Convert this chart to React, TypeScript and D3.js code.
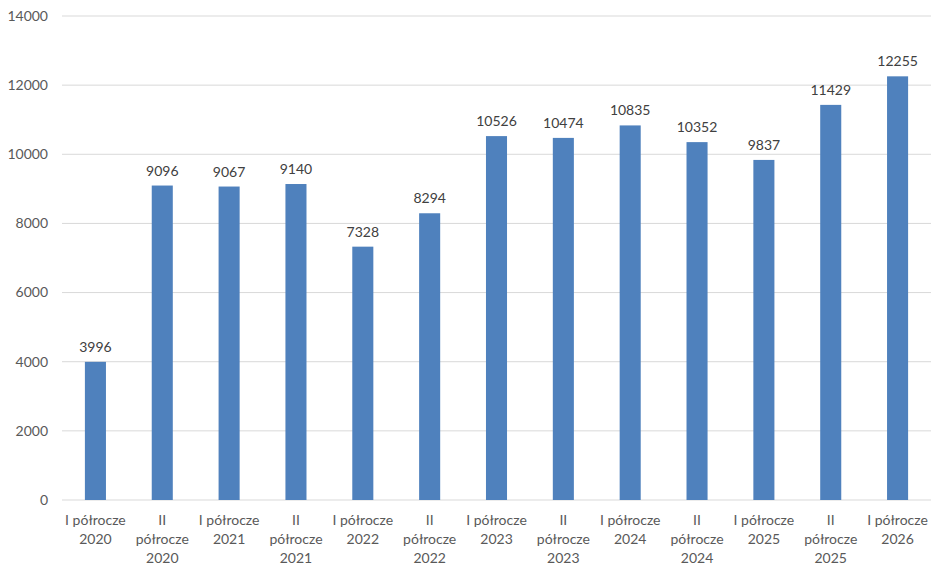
import React, { useEffect, useRef } from "react";
import * as d3 from "d3";

const categories: string[][] = [
  ["I półrocze", "2020"],
  ["II", "półrocze", "2020"],
  ["I półrocze", "2021"],
  ["II", "półrocze", "2021"],
  ["I półrocze", "2022"],
  ["II", "półrocze", "2022"],
  ["I półrocze", "2023"],
  ["II", "półrocze", "2023"],
  ["I półrocze", "2024"],
  ["II", "półrocze", "2024"],
  ["I półrocze", "2025"],
  ["II", "półrocze", "2025"],
  ["I półrocze", "2026"],
];
const values: number[] = [3996, 9096, 9067, 9140, 7328, 8294, 10526, 10474, 10835, 10352, 9837, 11429, 12255];
const yTicks: number[] = [0, 2000, 4000, 6000, 8000, 10000, 12000, 14000];

const W = 948;
const H = 578;
const FONT = "Lato, 'Open Sans', sans-serif";

export default function App() {
  const ref = useRef<SVGSVGElement>(null);
  useEffect(() => {
    const svg = d3.select(ref.current);
    svg.selectAll("*").remove();
    const left = 62, right = 931, top = 16, bottom = 500;
    const x = d3.scaleBand<number>().domain(d3.range(values.length)).range([left, right]).paddingInner(0.685).paddingOuter(0.3425);
    const y = d3.scaleLinear().domain([0, 14000]).range([bottom, top]);

    const g = svg.append("g");
    g.selectAll("line.grid").data(yTicks).join("line")
      .attr("x1", left).attr("x2", right)
      .attr("y1", (d) => y(d)).attr("y2", (d) => y(d))
      .attr("stroke", "#d9d9d9").attr("stroke-width", 1);

    g.selectAll("text.ytick").data(yTicks).join("text")
      .attr("x", 48).attr("y", (d) => y(d)).attr("dy", "0.35em")
      .attr("text-anchor", "end").attr("font-family", FONT).attr("font-size", 14)
      .attr("fill", "#595959").text((d) => String(d));

    g.selectAll("rect.bar").data(values).join("rect")
      .attr("x", (_, i) => x(i)!).attr("width", x.bandwidth())
      .attr("y", (d) => y(d)).attr("height", (d) => bottom - y(d))
      .attr("fill", "#4f81bd");

    g.selectAll("text.val").data(values).join("text")
      .attr("x", (_, i) => x(i)! + x.bandwidth() / 2)
      .attr("y", (d) => y(d) - 10)
      .attr("text-anchor", "middle").attr("font-family", FONT).attr("font-size", 14)
      .attr("fill", "#404040").text((d) => String(d));

    const cg = g.selectAll("g.cat").data(categories).join("g")
      .attr("transform", (_, i) => `translate(${x(i)! + x.bandwidth() / 2},0)`);
    cg.each(function (lines) {
      d3.select(this).selectAll("text").data(lines).join("text")
        .attr("x", 0).attr("y", (_, j) => 520 + j * 19).attr("dy", "0.35em")
        .attr("text-anchor", "middle").attr("font-family", FONT).attr("font-size", 14)
        .attr("fill", "#595959").text((d) => d);
    });
  }, []);
  return <svg ref={ref} width={W} height={H} style={{ position: "absolute", left: 0, top: 0 }} />;
}
